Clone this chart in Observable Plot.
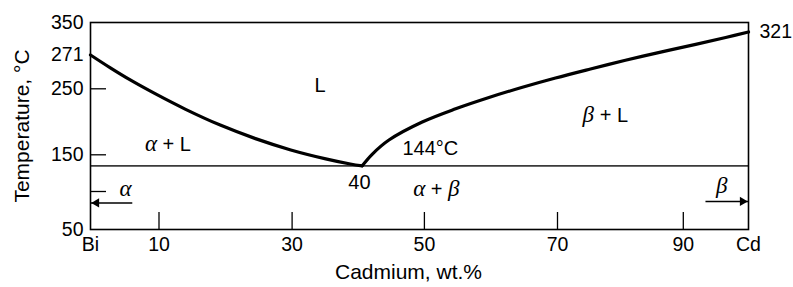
<!DOCTYPE html>
<html><head><meta charset="utf-8">
<script src="https://cdn.jsdelivr.net/npm/d3@7"></script>
<script src="https://cdn.jsdelivr.net/npm/@observablehq/plot@0.6"></script>
<style>html,body{margin:0;padding:0;background:#fff}</style>
</head><body><div id="chart"></div>
<script>
// ---- data ----
const xTicks = [0, 10, 30, 50, 70, 90, 100];
const xTickLabels = ["Bi", "10", "30", "50", "70", "90", "Cd"];
const xTickMarks = [10, 30, 50, 70, 90];
const yTicks = [50, 150, 250, 271, 350];
const yTickMarks = [100, 150, 250];
const yRightTicks = [321];

// liquidus, Bi side (wt.% Cd, °C)
const leftLiqX = [0, 2.9, 5.8, 9.5, 14.0, 19.2, 24.5, 29.8, 34.8, 38.3, 40];
const leftLiqT = [271, 263, 255.5, 242.2, 218.9, 195, 174.5, 157.4, 147.8, 145, 144];
// liquidus, Cd side
const rightLiqX = [40, 41.6, 44.3, 49.65, 54.7, 59.7, 64.6, 69.7, 75.25, 80.8, 86.4, 91.9, 96.5, 100];
const rightLiqT = [144, 150.8, 172.4, 199.7, 219.7, 236.8, 250.8, 256.7, 262.3, 267.7, 277.3, 294, 309, 321];

const eutecticT = 144;
const compMin = 0, compMax = 100;

const labelText = ["L", "α + L", "β + L", "144°C", "40", "α + β", "α", "β"];
const labelX = [34, 11.35, 77.6, 50.9, 39.6, 51.8, 5.1, 95.9];
const labelT = [252, 165.6, 209.5, 158.8, 114.6, 103.4, 103.4, 108.6];

const arrowFrom = [6.1, 93.4];
const arrowTo = [0, 100];
const arrowT = [85, 87];

// ---- tables ----
const leftLiq = leftLiqX.map((x, i) => ({x, t: leftLiqT[i]}));
const rightLiq = rightLiqX.map((x, i) => ({x, t: rightLiqT[i]}));
const labels = labelText.map((s, i) => ({s, x: labelX[i], t: labelT[i]}));
const arrows = arrowFrom.map((f, i) => ({from: f, to: arrowTo[i], t: arrowT[i], dir: arrowTo[i] > f ? 1 : -1}));

const FONT = "'Liberation Sans', Arial, Helvetica, sans-serif";

const chart = Plot.plot({
  width: 793, height: 287,
  marginLeft: 90, marginRight: 45, marginTop: 22, marginBottom: 58,
  style: {fontFamily: FONT, fontSize: "20px", background: "white", color: "black"},
  x: {type: "linear", domain: [0, 10, 30, 40, 50, 70, 90, 100],
      range: [90, 158.5, 291.6, 361.7, 423.9, 557, 682.8, 748]},
  y: {type: "linear", domain: [50, 100, 144, 150, 250, 271, 321, 350],
      range: [229, 191, 165.3, 154.3, 88.3, 54.5, 31.5, 22]},
  marks: [
    Plot.ruleY([eutecticT], {x1: compMin, x2: compMax, stroke: "#3a3a3a", strokeWidth: 1.7}),
    Plot.tickX(xTickMarks, {x: d => d, insetTop: 190, stroke: "black", strokeWidth: 1.3}),
    Plot.tickY(yTickMarks, {y: d => d, insetRight: 642, stroke: "black", strokeWidth: 1.3}),
    Plot.line(leftLiq, {x: "x", y: "t", curve: "catmull-rom", stroke: "black", strokeWidth: 3.2}),
    Plot.line(rightLiq, {x: "x", y: "t", curve: "catmull-rom", stroke: "black", strokeWidth: 3.2}),
    Plot.link(arrows, {x1: "from", x2: "to", y1: "t", y2: "t", stroke: "black", strokeWidth: 1.5}),
    Plot.dot(arrows.filter(a => a.dir < 0), {x: "to", y: "t", symbol: "triangle", r: 3.4, fill: "black", stroke: "none", rotate: -90, dx: 6}),
    Plot.dot(arrows.filter(a => a.dir > 0), {x: "to", y: "t", symbol: "triangle", r: 3.4, fill: "black", stroke: "none", rotate: 90, dx: -6}),
    Plot.text(labels, {x: "x", y: "t", text: "s", fontSize: 20, fill: "black"}),
    Plot.frame({stroke: "black", strokeWidth: 1.6}),
    Plot.axisX(xTicks, {tickSize: 0, tickPadding: 8, fontSize: 19.5, label: null,
      tickFormat: d => xTickLabels[xTicks.indexOf(d)]}),
    Plot.axisY(yTicks, {anchor: "left", tickSize: 0, tickPadding: 7, fontSize: 19.5, label: null}),
    Plot.axisY(yRightTicks, {anchor: "right", tickSize: 0, tickPadding: 11, fontSize: 19.5, label: null}),
    Plot.text(["Cadmium, wt.%"], {frameAnchor: "bottom", textAnchor: "middle", lineAnchor: "middle", dy: 43, dx: -11, fontSize: 21}),
    Plot.text(["Temperature, °C"], {frameAnchor: "left", textAnchor: "middle", lineAnchor: "middle", dx: -68, rotate: -90, fontSize: 21})
  ]
});

// Greek letters in italic serif, as in the original
d3.select(chart).selectAll("text").each(function () {
  const t = this.textContent;
  if (!/[αβ]/.test(t) || this.querySelector("tspan")) return;
  const sel = d3.select(this);
  sel.text(null);
  for (const part of t.split(/([αβ])/)) {
    if (!part) continue;
    const ts = sel.append("tspan").text(part);
    if (/[αβ]/.test(part)) ts.attr("font-family", "'Liberation Serif', 'DejaVu Serif', serif")
      .attr("font-style", "italic").attr("font-size", "1.15em");
  }
});

document.getElementById("chart").append(chart);
</script>
</body></html>
